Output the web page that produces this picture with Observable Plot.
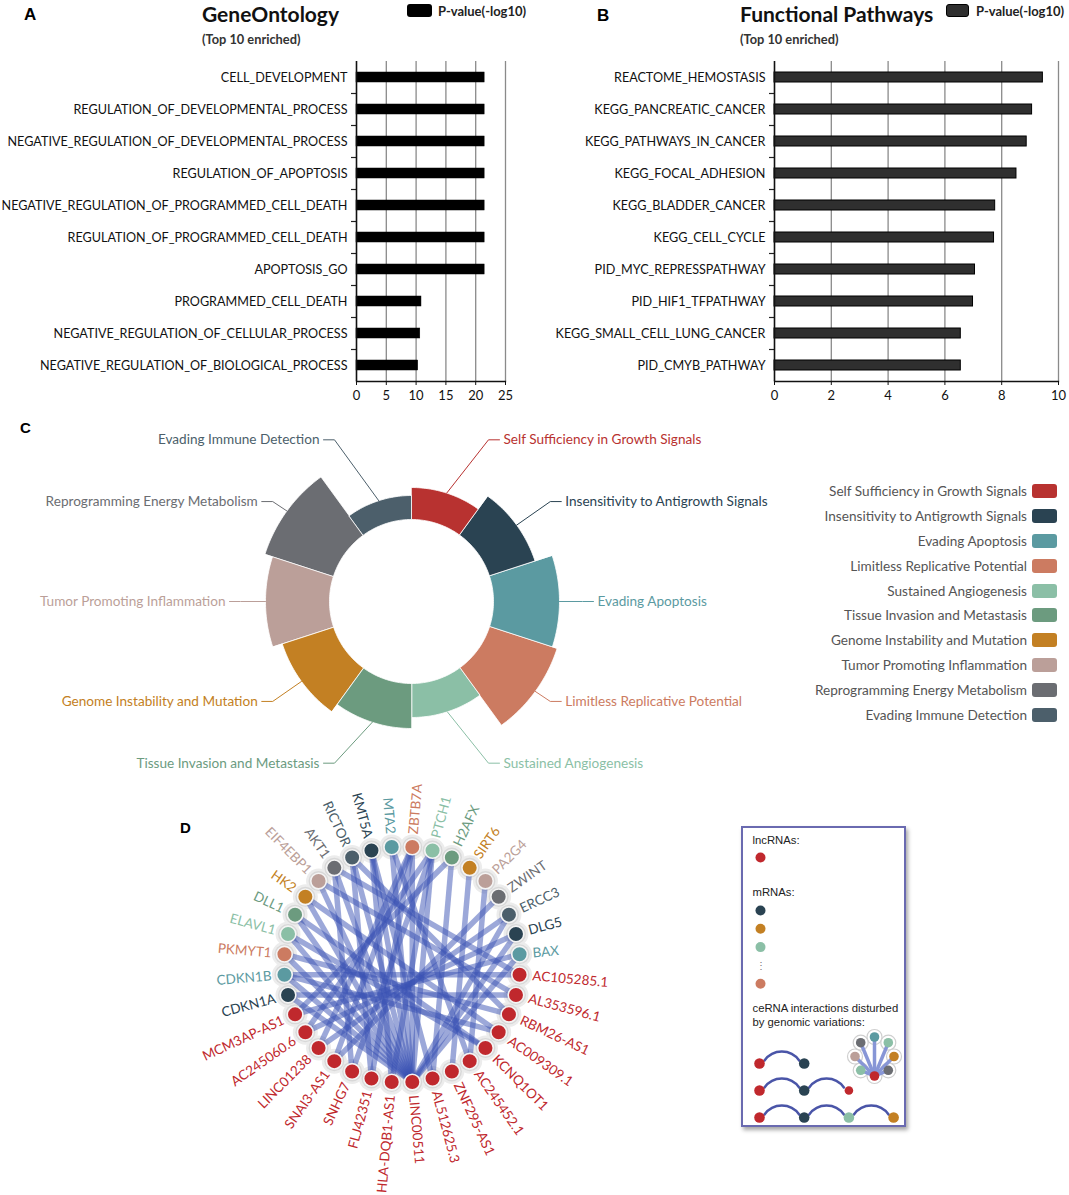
<!DOCTYPE html>
<html><head><meta charset="utf-8">
<script src="https://cdn.jsdelivr.net/npm/d3@7"></script>
<script src="https://cdn.jsdelivr.net/npm/@observablehq/plot@0.6"></script>
<style>
body{margin:0;background:#fff;}
#root{position:relative;width:1069px;height:1195px;overflow:hidden;font-family:Lato,sans-serif;background:#fff;}
#root svg{overflow:visible;max-width:none;}
.t{position:absolute;white-space:nowrap;line-height:1;}
</style></head><body><div id="root"></div>
<script>
// ================= DATA =================
const goTerms = ["CELL_DEVELOPMENT","REGULATION_OF_DEVELOPMENTAL_PROCESS","NEGATIVE_REGULATION_OF_DEVELOPMENTAL_PROCESS","REGULATION_OF_APOPTOSIS","NEGATIVE_REGULATION_OF_PROGRAMMED_CELL_DEATH","REGULATION_OF_PROGRAMMED_CELL_DEATH","APOPTOSIS_GO","PROGRAMMED_CELL_DEATH","NEGATIVE_REGULATION_OF_CELLULAR_PROCESS","NEGATIVE_REGULATION_OF_BIOLOGICAL_PROCESS"];
const goValues = [21.5,21.5,21.5,21.5,21.5,21.5,21.5,10.9,10.7,10.35];
const goTicks = [0,5,10,15,20,25];

const pathTerms = ["REACTOME_HEMOSTASIS","KEGG_PANCREATIC_CANCER","KEGG_PATHWAYS_IN_CANCER","KEGG_FOCAL_ADHESION","KEGG_BLADDER_CANCER","KEGG_CELL_CYCLE","PID_MYC_REPRESSPATHWAY","PID_HIF1_TFPATHWAY","KEGG_SMALL_CELL_LUNG_CANCER","PID_CMYB_PATHWAY"];
const pathValues = [9.45,9.07,8.88,8.52,7.77,7.73,7.06,6.99,6.56,6.56];
const pathTicks = [0,2,4,6,8,10];

const hallmarks = ["Self Sufficiency in Growth Signals","Insensitivity to Antigrowth Signals","Evading Apoptosis","Limitless Replicative Potential","Sustained Angiogenesis","Tissue Invasion and Metastasis","Genome Instability and Mutation","Tumor Promoting Inflammation","Reprogramming Energy Metabolism","Evading Immune Detection"];
const hallmarkValues = [32,48,66,71,34,45,54,64,72,24];
const hallmarkColors = ["#b83230","#2a4352","#5b9aa1","#cc7b61","#8bbfa6","#6c9b7f","#c38023","#bb9f99","#6b6d72","#4c5f6b"];

const ceNodes = ["ZBTB7A","PTCH1","H2AFX","SIRT6","PA2G4","ZWINT","ERCC3","DLG5","BAX",
  "AC105285.1","AL353596.1","RBM26-AS1","AC009309.1","KCNQ1OT1","AC245452.1","ZNF295-AS1","AL512625.3","LINC00511","HLA-DQB1-AS1","FLJ42351","SNHG7","SNAI3-AS1","LINC01238","AC245060.6","MCM3AP-AS1",
  "CDKN1A","CDKN1B","PKMYT1","ELAVL1","DLL1","HK2","EIF4EBP1","AKT1","RICTOR","KMT5A","MTA2"];
// -1 = lncRNA, otherwise index of the hallmark colour
const ceNodeGroup = [3,4,5,6,7,8,9,1,2, -1,-1,-1,-1,-1,-1,-1,-1,-1,-1,-1,-1,-1,-1,-1,-1, 1,2,3,4,5,6,7,8,9,1,2];
const lncColor = "#c0282d";
const ceEdges = [
  ["LINC00511","CDKN1A"],["LINC00511","CDKN1B"],["LINC00511","PKMYT1"],["LINC00511","ELAVL1"],["LINC00511","DLL1"],
  ["LINC00511","HK2"],["LINC00511","EIF4EBP1"],["LINC00511","AKT1"],["LINC00511","RICTOR"],["LINC00511","KMT5A"],
  ["LINC00511","MTA2"],["LINC00511","ZBTB7A"],["LINC00511","PTCH1"],["LINC00511","DLG5"],["LINC00511","BAX"],["LINC00511","ERCC3"],
  ["AC105285.1","AKT1"],["AC105285.1","CDKN1B"],
  ["AL353596.1","CDKN1A"],["AL353596.1","EIF4EBP1"],
  ["RBM26-AS1","PKMYT1"],["RBM26-AS1","RICTOR"],
  ["AC009309.1","HK2"],["AC009309.1","CDKN1B"],
  ["KCNQ1OT1","DLL1"],["KCNQ1OT1","ELAVL1"],
  ["AC245452.1","PA2G4"],["AC245452.1","MTA2"],
  ["ZNF295-AS1","SIRT6"],
  ["AL512625.3","H2AFX"],["AL512625.3","KMT5A"],
  ["HLA-DQB1-AS1","KMT5A"],["HLA-DQB1-AS1","PTCH1"],
  ["FLJ42351","RICTOR"],["FLJ42351","ZBTB7A"],
  ["SNHG7","PTCH1"],["SNHG7","AKT1"],
  ["SNAI3-AS1","ZBTB7A"],["SNAI3-AS1","ZWINT"],
  ["LINC01238","ZBTB7A"],["LINC01238","ERCC3"],
  ["AC245060.6","PTCH1"],["AC245060.6","DLG5"],
  ["MCM3AP-AS1","BAX"],["MCM3AP-AS1","H2AFX"]
];

// ================= HELPERS =================
const root = document.getElementById("root");
function put(el, left, top){ el.style.position="absolute"; el.style.left=left+"px"; el.style.top=top+"px"; root.appendChild(el); return el; }
function txt(s, left, top, css){ const d=document.createElement("div"); d.className="t"; d.textContent=s; Object.assign(d.style, css||{}); return put(d,left,top); }
function box(left, top, w, h, css){ const d=document.createElement("div"); Object.assign(d.style,{width:w+"px",height:h+"px"},css||{}); return put(d,left,top); }
const rad = d => d*Math.PI/180;

// ================= PANELS A & B =================
function barPanel(terms, values, ticks, o){
  const data = terms.map((t,i)=>({term:t, value:values[i]}));
  return Plot.plot({
    width:o.width, height:410, marginLeft:o.ml, marginRight:o.mr, marginTop:60, marginBottom:30,
    style:{fontFamily:"Lato, sans-serif", fontSize:"12.6px", color:"#111", background:"transparent", overflow:"visible"},
    x:{domain:[ticks[0], ticks[ticks.length-1]]},
    y:{domain:terms, paddingInner:0.6875, paddingOuter:0.34375},
    marks:[
      Plot.ruleX(ticks.slice(1), {stroke:"#8a8a8a", strokeWidth:1.3}),
      Plot.barX(data, {y:"term", x:"value", fill:o.fill, stroke:"#000", strokeWidth:o.sw}),
      Plot.ruleY(terms.slice(1), {y:d=>d, x1:ticks[0], x2:ticks[0], insetLeft:-5, dy:-16, stroke:"#222", strokeWidth:1.2}),
      Plot.frame({anchor:"bottom", stroke:"#111", strokeWidth:1.3}),
      Plot.ruleX([ticks[0]], {stroke:"#111", strokeWidth:1.6}),
      Plot.axisX({ticks, tickSize:4, tickPadding:5, fontSize:13, label:null, stroke:"#111"}),
      Plot.axisY({tickSize:0, tickPadding:9, fontSize:12.6, label:null})
    ]
  });
}
put(barPanel(goTerms, goValues, goTicks, {width:530, ml:356, mr:25, fill:"#000", sw:0.5}), 0, 1);
put(barPanel(pathTerms, pathValues, pathTicks, {width:539, ml:244, mr:11, fill:"#2f2f2f", sw:1}), 530, 1);

const panelLetter = {fontFamily:"'Liberation Sans', Arial, sans-serif", fontWeight:"bold", color:"#000"};
txt("A", 24, 6, {...panelLetter, fontSize:"17px"});
txt("B", 597, 7, {...panelLetter, fontSize:"17px"});
txt("C", 20, 420, {...panelLetter, fontSize:"15px"});
txt("D", 180, 820, {...panelLetter, fontSize:"15px"});

const titleCss = {fontFamily:"Lato", fontWeight:"bold", fontSize:"21px", color:"#111"};
const subCss = {fontFamily:"Lato", fontWeight:"bold", fontSize:"12.8px", color:"#333"};
const legCss = {fontFamily:"Lato", fontWeight:"bold", fontSize:"13px", color:"#222"};
txt("GeneOntology", 202, 3, titleCss);
txt("(Top 10 enriched)", 202, 33, subCss);
box(407, 4, 25, 13, {background:"#000", borderRadius:"3px"});
txt("P-value(-log10)", 438, 5, legCss);
txt("Functional Pathways", 740, 3, titleCss);
txt("(Top 10 enriched)", 740, 33, subCss);
box(946, 4, 23, 13, {background:"#2f2f2f", border:"1px solid #000", borderRadius:"3px", boxSizing:"border-box"});
txt("P-value(-log10)", 976, 5, legCss);

// ================= PANEL C (rose chart) =================
(function(){
  const W=770, H=370, cx=411, cy=181; // centre offsets inside the plot
  const innerR = 82, outerMax = 154;
  const rScale = d3.scaleLinear().domain([0, d3.max(hallmarkValues)]).range([innerR, outerMax]);
  const step = 360/hallmarks.length, N = 30;
  const sectors = [];
  hallmarks.forEach((h,i)=>{
    const a0=i*step, a1=(i+1)*step, ro=rScale(hallmarkValues[i]);
    for(let k=0;k<=N;k++){ const a=rad(a0+(a1-a0)*k/N); sectors.push({h, x:ro*Math.sin(a), y:ro*Math.cos(a)}); }
    for(let k=N;k>=0;k--){ const a=rad(a0+(a1-a0)*k/N); sectors.push({h, x:innerR*Math.sin(a), y:innerR*Math.cos(a)}); }
  });
  const lines=[], labR=[], labL=[];
  hallmarks.forEach((h,i)=>{
    const m=rad((i+0.5)*step), ro=rScale(hallmarkValues[i]);
    const s=Math.sin(m), c=Math.cos(m), side = s>=0?1:-1;
    // label rows spread vertically; rows near the top/bottom pushed outward
    const by = 170*c, rb = 171 + Math.max(0, Math.abs(c)-0.6)*23;
    const bx = side*Math.sqrt(rb*rb - by*by), ex = bx + side*11;
    lines.push({h,x:ro*s,y:ro*c},{h,x:bx,y:by},{h,x:ex,y:by});
    (side>0?labR:labL).push({h, x:ex+side*4, y:by});
  });
  const p = Plot.plot({
    width:W, height:H, margin:0,
    style:{fontFamily:"Lato, sans-serif", fontSize:"13.5px", background:"transparent", overflow:"visible"},
    x:{domain:[-cx, W-cx], axis:null},
    y:{domain:[-(H-cy), cy], axis:null},
    color:{domain:hallmarks, range:hallmarkColors},
    marks:[
      Plot.line(sectors, {x:"x", y:"y", z:"h", fill:"h", stroke:"#fff", strokeWidth:0.8, curve:"linear-closed"}),
      Plot.line(lines, {x:"x", y:"y", z:"h", stroke:"h", strokeWidth:1}),
      Plot.text(labR, {x:"x", y:"y", text:"h", fill:"h", textAnchor:"start", fontSize:13.6}),
      Plot.text(labL, {x:"x", y:"y", text:"h", fill:"h", textAnchor:"end", fontSize:13.6})
    ]
  });
  put(p, 0, 420);
  // legend
  const lg = document.createElement("div");
  hallmarks.forEach((h,i)=>{
    const row=document.createElement("div");
    Object.assign(row.style,{display:"flex",justifyContent:"flex-end",alignItems:"center",height:"24.8px"});
    const s=document.createElement("span"); s.textContent=h;
    Object.assign(s.style,{fontFamily:"Lato",fontSize:"13.6px",color:"#555",marginRight:"5px",whiteSpace:"nowrap"});
    const sw=document.createElement("span");
    Object.assign(sw.style,{display:"inline-block",width:"25px",height:"14px",borderRadius:"3px",background:hallmarkColors[i]});
    row.appendChild(s); row.appendChild(sw); lg.appendChild(row);
  });
  lg.style.width="357px";
  put(lg, 700, 479);
})();

// ================= PANEL D (ceRNA network) =================
(function(){
  const W=500, H=425, cx=251.5, cy=194, R=118;
  const n = ceNodes.length, step = 360/n;
  const colorOf = g => g<0 ? lncColor : hallmarkColors[g];
  const nodes = ceNodes.map((name,i)=>{
    const ang = step*(i+0.5), a = rad(ang);
    return {name, ang, x:R*Math.sin(a), y:R*Math.cos(a), lx:(R+13)*Math.sin(a), ly:(R+13)*Math.cos(a),
            rot: ang<180 ? ang-90 : ang+90, color: colorOf(ceNodeGroup[i])};
  });
  const byName = new Map(nodes.map(d=>[d.name,d]));
  const links = ceEdges.map(([a,b])=>({x1:byName.get(a).x, y1:byName.get(a).y, x2:byName.get(b).x, y2:byName.get(b).y}));
  const p = Plot.plot({
    width:W, height:H, margin:0,
    style:{fontFamily:"Lato, sans-serif", fontSize:"13px", background:"transparent", overflow:"visible"},
    x:{domain:[-cx, W-cx], axis:null},
    y:{domain:[-(H-cy), cy], axis:null},
    color:{type:"identity"},
    marks:[
      Plot.dot(nodes, {x:"x", y:"y", r:12.5, fill:"#ececec"}),
      Plot.dot(nodes, {x:"x", y:"y", r:10, fill:"#d8d8d8"}),
      Plot.link(links, {x1:"x1", y1:"y1", x2:"x2", y2:"y2", stroke:"#3a52b4", strokeOpacity:0.5, strokeWidth:5.5}),
      Plot.dot(nodes, {x:"x", y:"y", r:7.8, fill:"color", stroke:"#f4f4f4", strokeWidth:1.6}),
      Plot.text(nodes.filter(d=>d.ang<180), {x:"lx", y:"ly", text:"name", rotate:"rot", fill:"color", textAnchor:"start", fontSize:13.5}),
      Plot.text(nodes.filter(d=>d.ang>=180), {x:"lx", y:"ly", text:"name", rotate:"rot", fill:"color", textAnchor:"end", fontSize:13.5})
    ]
  });
  put(p, 150, 770);
})();

// ================= PANEL D legend =================
(function(){
  const W=161, H=297;
  const frame = box(741, 826, W, H, {border:"2px solid #6a6ab0", boxShadow:"2px 3px 4px rgba(0,0,0,0.35)", background:"#fff"});
  const navy=hallmarkColors[1], orange=hallmarkColors[6], lgreen=hallmarkColors[4], salmon=hallmarkColors[3];
  const gray=hallmarkColors[8], teal=hallmarkColors[2], rosy=hallmarkColors[7];
  const texts = [{t:"lncRNAs:",y:12},{t:"mRNAs:",y:64},{t:"ceRNA interactions disturbed",y:180},{t:"by genomic variations:",y:194}];
  const dots = [{x:17,y:29,c:lncColor,r:5}];
  [navy, orange, lgreen, null, salmon].forEach((c,k)=>{ if(c) dots.push({x:17, y:82+k*18.3, c, r:5}); });
  const chains = [[lncColor,navy],[lncColor,navy,lncColor],[lncColor,navy,lgreen,orange]];
  const arcs=[];
  chains.forEach((row,ri)=>{
    const y = 235 + ri*27;
    row.forEach((c,j)=>{ dots.push({x:16+j*44.7, y, c, r:(ri===1&&j===2)?4.3:5.3}); if(j>0) arcs.push({x1:16+(j-1)*44.7+5, y1:y-3, x2:16+j*44.7-5, y2:y-3}); });
  });
  const fanCols = [teal, lgreen, orange, gray, lncColor, lgreen, rosy, gray];
  const fc = {x:131, y:228, r:19.5};
  const fan = fanCols.map((c,k)=>({c, x:fc.x+fc.r*Math.sin(rad(k*45)), y:fc.y-fc.r*Math.cos(rad(k*45))}));
  const hub = fan[4];
  const fanLinks = fan.filter((d,k)=>k!==4).map(d=>({x1:hub.x,y1:hub.y,x2:d.x,y2:d.y}));
  const p = Plot.plot({
    width:W, height:H, margin:0,
    style:{fontFamily:"'Liberation Sans', Arial, sans-serif", fontSize:"11px", background:"transparent", overflow:"visible"},
    x:{domain:[0,W], axis:null},
    y:{domain:[0,H], range:[0,H], axis:null},
    color:{type:"identity"},
    r:{type:"identity"},
    marks:[
      Plot.text(texts, {x:9, y:"y", text:"t", textAnchor:"start", fill:"#222", fontSize:11.3}),
      Plot.text(["⋮"], {x:17, y:137, text:d=>d, fill:"#777", fontSize:10}),
      Plot.arrow(arcs, {x1:"x1", y1:"y1", x2:"x2", y2:"y2", bend:55, headLength:0, stroke:"#4a55a8", strokeWidth:2.5}),
      Plot.dot(fan, {x:"x", y:"y", r:7.5, fill:"#fff", stroke:"#cfcfcf", strokeWidth:1.2}),
      Plot.link(fanLinks, {x1:"x1", y1:"y1", x2:"x2", y2:"y2", stroke:"#8796d6", strokeWidth:3.5}),
      Plot.dot(fan, {x:"x", y:"y", r:4.8, fill:"c"}),
      Plot.dot(dots, {x:"x", y:"y", r:"r", fill:"c"})
    ]
  });
  p.style.position="absolute"; p.style.left="0px"; p.style.top="0px";
  frame.appendChild(p);
})();
</script></body></html>
